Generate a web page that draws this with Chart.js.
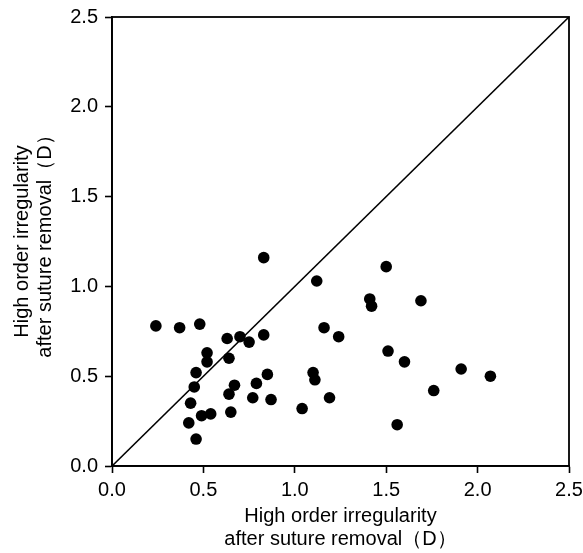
<!DOCTYPE html>
<html>
<head>
<meta charset="utf-8">
<script src="https://cdn.jsdelivr.net/npm/chart.js@4"></script>
<style>
  html, body { margin: 0; padding: 0; background: #fff; }
  #wrap { width: 583px; height: 553px; }
</style>
</head>
<body>
<div id="wrap"><canvas id="scatter" width="583" height="553"></canvas></div>
<script>
// x: before, y: after suture removal (D)
const xVals = [0.83, 1.12, 0.24, 0.37, 0.48, 1.16, 1.24, 0.63, 0.70, 0.75, 0.83,
  0.52, 0.52, 0.64, 0.46, 0.45, 0.67, 0.79, 0.85, 1.10, 1.11, 1.19, 0.43, 0.64,
  0.77, 0.87, 1.04, 0.49, 0.54, 0.65, 0.42, 0.46,
  1.50, 1.41, 1.42, 1.69, 1.51, 1.60, 1.91, 2.07, 1.76, 1.56];
const yVals = [1.16, 1.03, 0.78, 0.77, 0.79, 0.77, 0.72, 0.71, 0.72, 0.69, 0.73,
  0.63, 0.58, 0.60, 0.52, 0.44, 0.45, 0.46, 0.51, 0.52, 0.48, 0.38, 0.35, 0.40,
  0.38, 0.37, 0.32, 0.28, 0.29, 0.30, 0.24, 0.15,
  1.11, 0.93, 0.89, 0.92, 0.64, 0.58, 0.54, 0.50, 0.42, 0.23];
const axisTicks = [0, 0.5, 1.0, 1.5, 2.0, 2.5];
const identityLine = [0, 2.5];
const axisTitle = ['High order irregularity', 'after suture removal（D）'];

const FONT = 'Liberation Sans, Arial, Helvetica, sans-serif';

const frame = {
  id: 'frame',
  afterDatasetsDraw(chart) {
    const { ctx, chartArea: a } = chart;
    ctx.save();
    ctx.strokeStyle = '#000';
    ctx.lineWidth = 1.8;
    ctx.strokeRect(a.left, a.top, a.right - a.left, a.bottom - a.top);
    ctx.restore();
  }
};

const axisBase = {
  type: 'linear',
  min: 0,
  max: 2.5,
  afterBuildTicks: s => { s.ticks = axisTicks.map(v => ({ value: v })); },
  grid: { drawOnChartArea: false, drawTicks: true, tickLength: 7, tickWidth: 1.6, tickColor: '#000' },
  border: { display: true, color: '#000', width: 1.8 },
  ticks: {
    color: '#000',
    font: { family: FONT, size: 20 },
    callback: v => v.toFixed(1)
  }
};

const titleFont = { family: FONT, size: 20, lineHeight: 1.15 };

new Chart(document.getElementById('scatter'), {
  type: 'scatter',
  data: {
    datasets: [
      {
        type: 'line',
        data: identityLine.map(v => ({ x: v, y: v })),
        borderColor: '#000',
        borderWidth: 1.6,
        pointRadius: 0,
        fill: false
      },
      {
        data: xVals.map((x, i) => ({ x, y: yVals[i] })),
        backgroundColor: '#000',
        borderColor: '#000',
        pointRadius: 5.8,
        borderWidth: 0
      }
    ]
  },
  options: {
    responsive: false,
    devicePixelRatio: 1,
    animation: false,
    layout: { padding: { top: 17, right: 14, left: 0, bottom: 0 } },
    plugins: { legend: { display: false }, tooltip: { enabled: false } },
    scales: {
      x: {
        ...axisBase,
        ticks: { ...axisBase.ticks, padding: 5, maxRotation: 0 },
        afterFit: s => { s.height = 87; s.paddingRight = 0; s.paddingLeft = 0; },
        title: {
          display: true,
          text: axisTitle,
          color: '#000',
          font: titleFont,
          padding: { top: 0, bottom: 2 }
        }
      },
      y: {
        ...axisBase,
        ticks: { ...axisBase.ticks, padding: 7 },
        afterFit: s => { s.width = 112; s.paddingTop = 0; s.paddingBottom = 0; },
        title: {
          display: true,
          text: axisTitle,
          color: '#000',
          font: titleFont,
          padding: { top: 11, bottom: 0 }
        }
      }
    }
  },
  plugins: [frame]
});
</script>
</body>
</html>
